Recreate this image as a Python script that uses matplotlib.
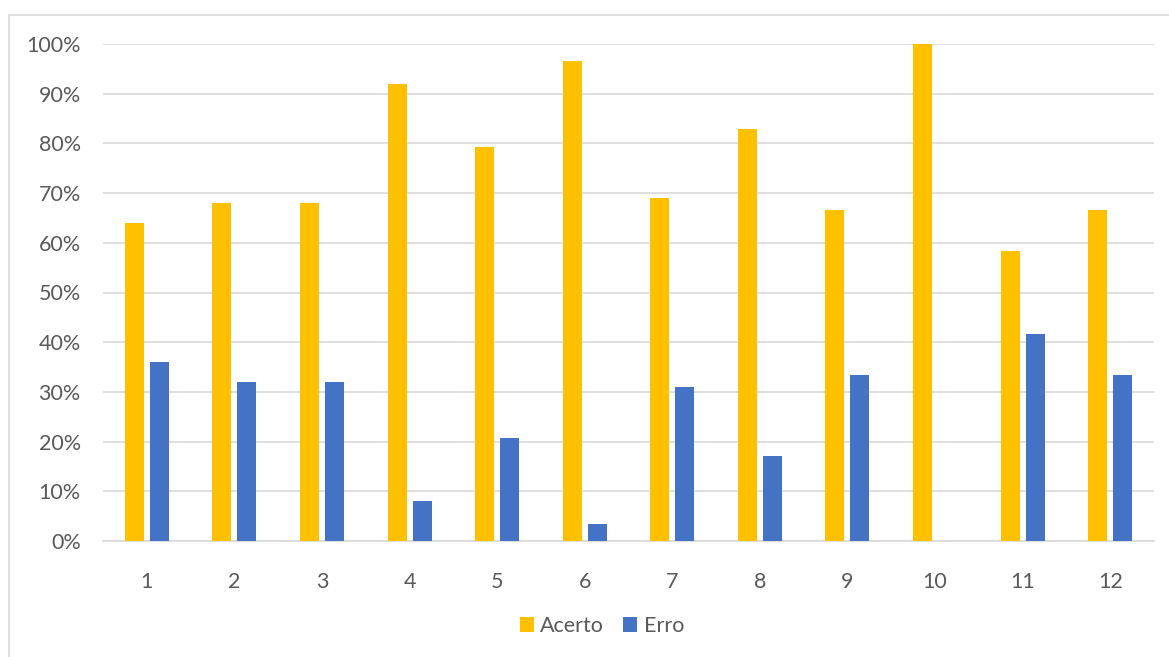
import matplotlib.pyplot as plt
import numpy as np
from matplotlib.patches import Rectangle
from matplotlib.ticker import FuncFormatter, MultipleLocator

categories = ["1", "2", "3", "4", "5", "6", "7", "8", "9", "10", "11", "12"]
acerto = [64.0, 68.0, 68.0, 92.0, 79.3, 96.6, 69.0, 82.8, 66.7, 100.0, 58.3, 66.7]
erro = [36.0, 32.0, 32.0, 8.0, 20.7, 3.4, 31.0, 17.2, 33.3, 0.0, 41.7, 33.3]

W, H = 1169, 657
plt.rcParams['font.family'] = ['Lato', 'DejaVu Sans']
fig = plt.figure(figsize=(W / 100, H / 100), dpi=100)

# chart-area border
fig.add_artist(Rectangle((9 / W, -0.1), 1.2, 1 - 15 / H + 0.1, transform=fig.transFigure,
                         facecolor='none', edgecolor='#D9D9D9', linewidth=1.2))

left, right, top, bottom = 103, 1154, 44, 541
ax = fig.add_axes([left / W, 1 - bottom / H, (right - left) / W, (bottom - top) / H])

x = np.arange(len(categories))
bw = 0.217
off = 0.143
ax.bar(x - off, acerto, bw, color='#FFC000', label='Acerto', zorder=3)
ax.bar(x + off, erro, bw, color='#4472C4', label='Erro', zorder=3)

ax.set_xlim(-0.5, len(categories) - 0.5)
ax.set_ylim(0, 100)
ax.yaxis.set_major_locator(MultipleLocator(10))
ax.yaxis.set_major_formatter(FuncFormatter(lambda v, p: f"{v:.0f}%"))
ax.set_xticks(x)
ax.set_xticklabels(categories)
ax.grid(axis='y', color='#D9D9D9', linewidth=1.2, zorder=0)
for s in ['top', 'right', 'left']:
    ax.spines[s].set_visible(False)
ax.spines['bottom'].set_color('#D9D9D9')
ax.spines['bottom'].set_linewidth(1.2)
ax.tick_params(axis='both', length=0, labelsize=15.5, colors='#595959')
ax.tick_params(axis='y', pad=16)
ax.tick_params(axis='x', pad=22)

leg = fig.legend(loc='center', bbox_to_anchor=(602 / W, 1 - 626 / H), ncol=2, frameon=False,
                 fontsize=15.5, handlelength=0.65, handleheight=0.65, handletextpad=0.3,
                 columnspacing=0.9)
for t in leg.get_texts():
    t.set_color('#595959')

fig.savefig('out.png', dpi=100, facecolor='white')
